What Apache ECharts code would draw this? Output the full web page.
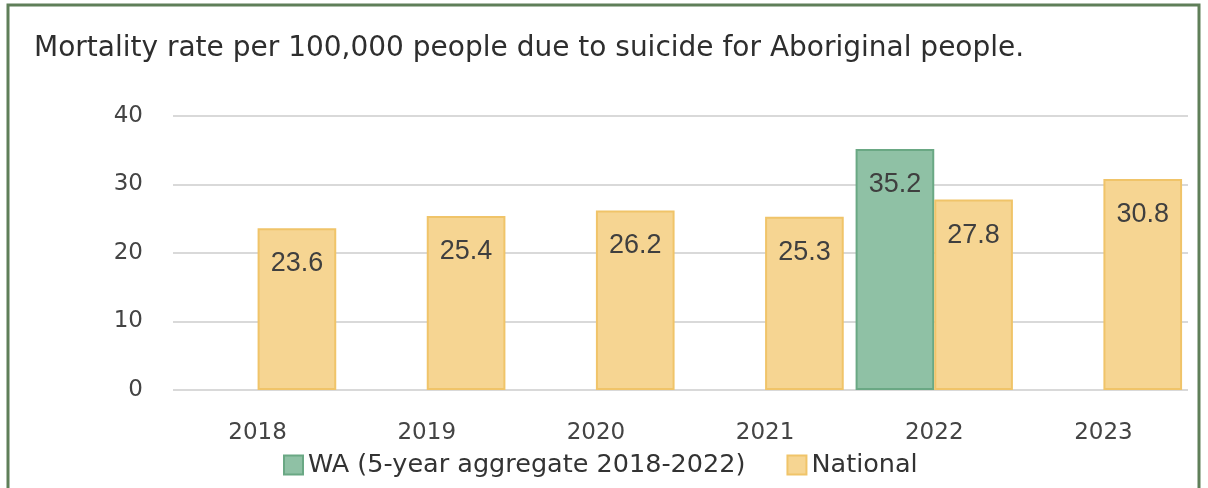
<!DOCTYPE html>
<html><head><meta charset="utf-8">
<script src="https://cdn.jsdelivr.net/npm/echarts@6/dist/echarts.min.js"></script>
<style>html,body{margin:0;padding:0;background:#fff}#c{width:1208px;height:488px}</style>
</head><body><div id="c"></div>
<script>
var title = "Mortality rate per 100,000 people due to suicide for Aboriginal people.";
var categories = ["2018","2019","2020","2021","2022","2023"];
var waName = "WA (5-year aggregate 2018-2022)";
var waValues = [null,null,null,null,35.2,null];
var natName = "National";
var natValues = [23.6,25.4,26.2,25.3,27.8,30.8];

var chart = echarts.init(document.getElementById('c'));
var font = '"DejaVu Sans", sans-serif';
var lbl = {show:true, position:'insideTop', distance:22, fontSize:27, color:'#3f3f3f', fontFamily:'"Liberation Sans", Arial, sans-serif',
  formatter:function(p){return p.value==null?'':p.value.toFixed(1);}};
chart.setOption({
  animation:false,
  graphic:[{type:'rect', shape:{x:8,y:5,width:1191,height:500}, style:{fill:'none', stroke:'#5f7f59', lineWidth:3}, silent:true}],
  title:{text:title, left:29, top:30, textStyle:{fontFamily:font, fontSize:28, fontWeight:'normal', color:'#2e2e2e'}},
  grid:{left:173, right:20, top:116, bottom:98},
  legend:{bottom:5, left:278, itemWidth:19, itemHeight:19, itemGap:41, icon:'rect',
    textStyle:{fontFamily:font, fontSize:25.5, color:'#333'},
    data:[waName, natName]},
  xAxis:{type:'category', data:categories, axisLine:{show:false}, axisTick:{show:false},
    axisLabel:{fontFamily:font, fontSize:23, color:'#444', margin:32}},
  yAxis:{type:'value', min:0, max:40, interval:10,
    axisLine:{show:false}, axisTick:{show:false},
    axisLabel:{fontFamily:font, fontSize:23, color:'#444', margin:30},
    splitLine:{lineStyle:{color:'#d9d9d9', width:2}}},
  series:[
    {name:waName, type:'bar', data:waValues, barGap:'0%', barCategoryGap:'7%',
     itemStyle:{color:'#8fc1a5', borderColor:'#6aa884', borderWidth:2}, label:lbl},
    {name:natName, type:'bar', data:natValues, barGap:'0%', barCategoryGap:'7%',
     itemStyle:{color:'#f6d592', borderColor:'#f0c469', borderWidth:2}, label:lbl}
  ]
});
</script></body></html>
